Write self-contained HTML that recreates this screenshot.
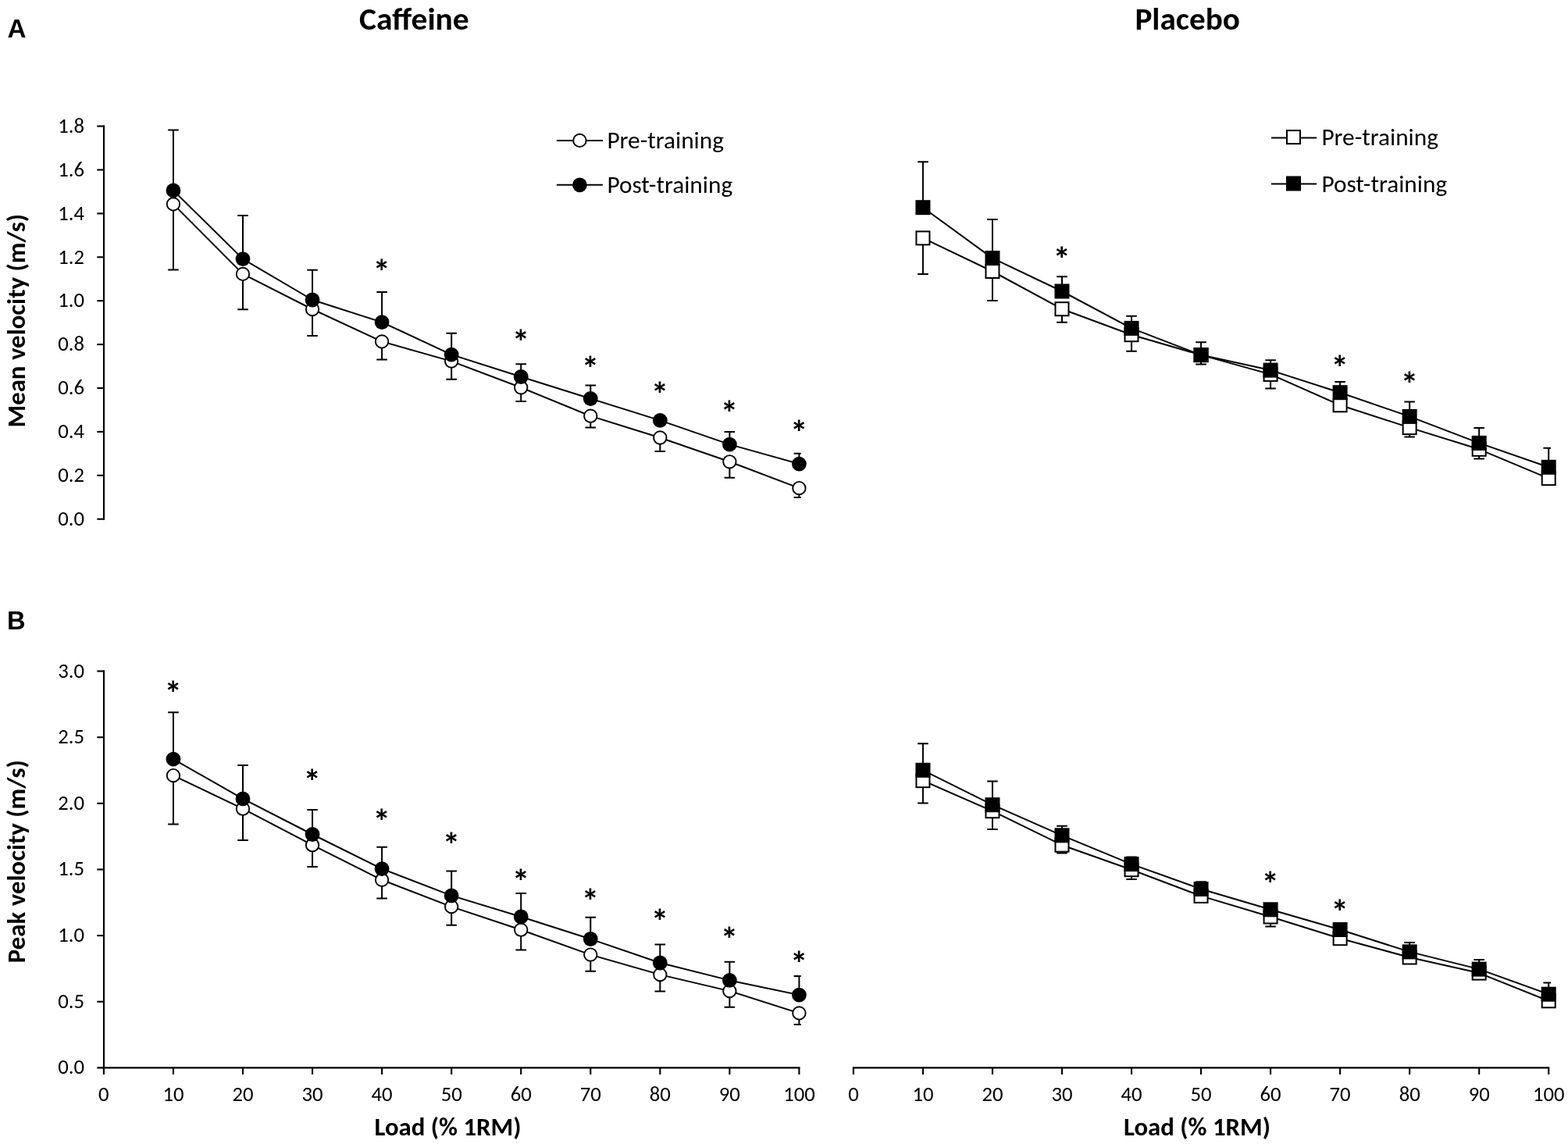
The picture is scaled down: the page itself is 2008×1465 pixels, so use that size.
<!DOCTYPE html>
<html><head><meta charset="utf-8"><title>Caffeine vs Placebo velocity</title><style>html,body{margin:0;padding:0;background:#fff;}svg{display:block;}</style></head><body>
<svg width="2008" height="1465" viewBox="0 0 2008 1465">
<defs><clipPath id="cl"><rect x="0" y="0" width="1025.7" height="1465"/></clipPath><clipPath id="cr"><rect x="1040" y="0" width="945.9" height="1465"/></clipPath></defs>
<rect width="2008" height="1465" fill="#fff"/>
<text x="9.6" y="48.1" font-family="Liberation Sans, Arial, Helvetica, sans-serif" font-weight="bold" font-size="33.3">A</text>
<text transform="translate(9.1 805.9) scale(0.99 1.03)" font-family="Liberation Sans, Arial, Helvetica, sans-serif" font-weight="bold" font-size="33">B</text>
<text transform="translate(530.4 37.6) scale(1 0.975)" font-family="Carlito, Calibri, Liberation Sans, sans-serif" font-weight="bold" font-size="41.5" text-anchor="middle" textLength="140.62" lengthAdjust="spacingAndGlyphs">Caffeine</text>
<text transform="translate(1520.6 37.6) scale(0.992 0.99)" font-family="Carlito, Calibri, Liberation Sans, sans-serif" font-weight="bold" font-size="41.5" text-anchor="middle" textLength="135.56" lengthAdjust="spacingAndGlyphs">Placebo</text>
<g stroke="#000" stroke-width="2.1" fill="none"><path d="M133 160.55V665.75"/><path d="M124.3 664.7H134"/><path d="M124.3 608.8H134"/><path d="M124.3 552.9H134"/><path d="M124.3 497H134"/><path d="M124.3 441.1H134"/><path d="M124.3 385.2H134"/><path d="M124.3 329.3H134"/><path d="M124.3 273.4H134"/><path d="M124.3 217.5H134"/><path d="M124.3 161.6H134"/><path d="M133 858.45V1367.4"/><path d="M124.3 1282.75H134"/><path d="M124.3 1198.1H134"/><path d="M124.3 1113.45H134"/><path d="M124.3 1028.8H134"/><path d="M124.3 944.15H134"/><path d="M124.3 859.5H134"/><path d="M124.3 1367.4H1024.45"/><path d="M132.9 1367.4V1376"/><path d="M221.95 1367.4V1376"/><path d="M311 1367.4V1376"/><path d="M400.05 1367.4V1376"/><path d="M489.1 1367.4V1376"/><path d="M578.15 1367.4V1376"/><path d="M667.2 1367.4V1376"/><path d="M756.25 1367.4V1376"/><path d="M845.3 1367.4V1376"/><path d="M934.35 1367.4V1376"/><path d="M1023.4 1367.4V1376"/><path d="M1091.85 1367.4H1984.25"/><path d="M1092.9 1367.4V1376"/><path d="M1181.93 1367.4V1376"/><path d="M1270.96 1367.4V1376"/><path d="M1359.99 1367.4V1376"/><path d="M1449.02 1367.4V1376"/><path d="M1538.05 1367.4V1376"/><path d="M1627.08 1367.4V1376"/><path d="M1716.11 1367.4V1376"/><path d="M1805.14 1367.4V1376"/><path d="M1894.17 1367.4V1376"/><path d="M1983.2 1367.4V1376"/></g>
<g font-family="Carlito, Calibri, Liberation Sans, sans-serif" font-size="26.67" fill="#000"><text x="108" y="672.9" text-anchor="end" textLength="33.75" lengthAdjust="spacingAndGlyphs">0.0</text><text x="108" y="617" text-anchor="end" textLength="33.75" lengthAdjust="spacingAndGlyphs">0.2</text><text x="108" y="561.1" text-anchor="end" textLength="33.75" lengthAdjust="spacingAndGlyphs">0.4</text><text x="108" y="505.2" text-anchor="end" textLength="33.75" lengthAdjust="spacingAndGlyphs">0.6</text><text x="108" y="449.3" text-anchor="end" textLength="33.75" lengthAdjust="spacingAndGlyphs">0.8</text><text x="108" y="393.4" text-anchor="end" textLength="33.75" lengthAdjust="spacingAndGlyphs">1.0</text><text x="108" y="337.5" text-anchor="end" textLength="33.75" lengthAdjust="spacingAndGlyphs">1.2</text><text x="108" y="281.6" text-anchor="end" textLength="33.75" lengthAdjust="spacingAndGlyphs">1.4</text><text x="108" y="225.7" text-anchor="end" textLength="33.75" lengthAdjust="spacingAndGlyphs">1.6</text><text x="108" y="169.8" text-anchor="end" textLength="33.75" lengthAdjust="spacingAndGlyphs">1.8</text><text x="108" y="1375.4" text-anchor="end" textLength="33.75" lengthAdjust="spacingAndGlyphs">0.0</text><text x="108" y="1290.75" text-anchor="end" textLength="33.75" lengthAdjust="spacingAndGlyphs">0.5</text><text x="108" y="1206.1" text-anchor="end" textLength="33.75" lengthAdjust="spacingAndGlyphs">1.0</text><text x="108" y="1121.45" text-anchor="end" textLength="33.75" lengthAdjust="spacingAndGlyphs">1.5</text><text x="108" y="1036.8" text-anchor="end" textLength="33.75" lengthAdjust="spacingAndGlyphs">2.0</text><text x="108" y="952.15" text-anchor="end" textLength="33.75" lengthAdjust="spacingAndGlyphs">2.5</text><text x="108" y="867.5" text-anchor="end" textLength="33.75" lengthAdjust="spacingAndGlyphs">3.0</text><text x="132.9" y="1410" text-anchor="middle" textLength="13.52" lengthAdjust="spacingAndGlyphs">0</text><text x="1092.9" y="1410" text-anchor="middle" textLength="13.52" lengthAdjust="spacingAndGlyphs">0</text><text x="221.95" y="1410" text-anchor="middle" textLength="27.03" lengthAdjust="spacingAndGlyphs">10</text><text x="1181.93" y="1410" text-anchor="middle" textLength="27.03" lengthAdjust="spacingAndGlyphs">10</text><text x="311" y="1410" text-anchor="middle" textLength="27.03" lengthAdjust="spacingAndGlyphs">20</text><text x="1270.96" y="1410" text-anchor="middle" textLength="27.03" lengthAdjust="spacingAndGlyphs">20</text><text x="400.05" y="1410" text-anchor="middle" textLength="27.03" lengthAdjust="spacingAndGlyphs">30</text><text x="1359.99" y="1410" text-anchor="middle" textLength="27.03" lengthAdjust="spacingAndGlyphs">30</text><text x="489.1" y="1410" text-anchor="middle" textLength="27.03" lengthAdjust="spacingAndGlyphs">40</text><text x="1449.02" y="1410" text-anchor="middle" textLength="27.03" lengthAdjust="spacingAndGlyphs">40</text><text x="578.15" y="1410" text-anchor="middle" textLength="27.03" lengthAdjust="spacingAndGlyphs">50</text><text x="1538.05" y="1410" text-anchor="middle" textLength="27.03" lengthAdjust="spacingAndGlyphs">50</text><text x="667.2" y="1410" text-anchor="middle" textLength="27.03" lengthAdjust="spacingAndGlyphs">60</text><text x="1627.08" y="1410" text-anchor="middle" textLength="27.03" lengthAdjust="spacingAndGlyphs">60</text><text x="756.25" y="1410" text-anchor="middle" textLength="27.03" lengthAdjust="spacingAndGlyphs">70</text><text x="1716.11" y="1410" text-anchor="middle" textLength="27.03" lengthAdjust="spacingAndGlyphs">70</text><text x="845.3" y="1410" text-anchor="middle" textLength="27.03" lengthAdjust="spacingAndGlyphs">80</text><text x="1805.14" y="1410" text-anchor="middle" textLength="27.03" lengthAdjust="spacingAndGlyphs">80</text><text x="934.35" y="1410" text-anchor="middle" textLength="27.03" lengthAdjust="spacingAndGlyphs">90</text><text x="1894.17" y="1410" text-anchor="middle" textLength="27.03" lengthAdjust="spacingAndGlyphs">90</text><text x="1023.4" y="1410" text-anchor="middle" textLength="40.53" lengthAdjust="spacingAndGlyphs">100</text><text x="1983.2" y="1410" text-anchor="middle" textLength="40.53" lengthAdjust="spacingAndGlyphs">100</text></g>
<text transform="translate(573.5 1454) scale(0.995 0.98)" font-family="Carlito, Calibri, Liberation Sans, sans-serif" font-weight="bold" font-size="33" text-anchor="middle" textLength="188.81" lengthAdjust="spacingAndGlyphs">Load (% 1RM)</text>
<text transform="translate(1533 1453.5) scale(0.995 0.98)" font-family="Carlito, Calibri, Liberation Sans, sans-serif" font-weight="bold" font-size="33" text-anchor="middle" textLength="188.81" lengthAdjust="spacingAndGlyphs">Load (% 1RM)</text>
<text transform="translate(32.4 410.8) rotate(-90) scale(0.995 0.98)" font-family="Carlito, Calibri, Liberation Sans, sans-serif" font-weight="bold" font-size="33" text-anchor="middle" textLength="274.91" lengthAdjust="spacingAndGlyphs">Mean velocity (m/s)</text>
<text transform="translate(32.4 1103.2) rotate(-90) scale(0.995 0.98)" font-family="Carlito, Calibri, Liberation Sans, sans-serif" font-weight="bold" font-size="33" text-anchor="middle" textLength="261.23" lengthAdjust="spacingAndGlyphs">Peak velocity (m/s)</text>
<path d="M712.9 180H771.9M712.9 236.8H771.9M1627.9 176.5H1686.2M1627.9 235.5H1686.2" stroke="#000" stroke-width="2"/>
<circle cx="742.4" cy="179.9" r="8.2" fill="#fff" stroke="#000" stroke-width="1.9"/>
<circle cx="742.4" cy="236.8" r="9.4" fill="#000"/>
<text transform="translate(777.4 189.6) scale(1 0.97)" font-family="Carlito, Calibri, Liberation Sans, sans-serif" font-size="31.3" textLength="149.54" lengthAdjust="spacingAndGlyphs">Pre-training</text>
<text transform="translate(777.4 247.2) scale(1 0.97)" font-family="Carlito, Calibri, Liberation Sans, sans-serif" font-size="31.3" textLength="160.75" lengthAdjust="spacingAndGlyphs">Post-training</text>
<rect x="1648" y="167.1" width="17.0" height="17.0" fill="#fff" stroke="#000" stroke-width="2"/>
<rect x="1648" y="226.5" width="17.0" height="17.0" fill="#000" stroke="#000" stroke-width="2"/>
<text transform="translate(1692.4 185.5) scale(1 0.97)" font-family="Carlito, Calibri, Liberation Sans, sans-serif" font-size="31.3" textLength="149.54" lengthAdjust="spacingAndGlyphs">Pre-training</text>
<text transform="translate(1692.4 245.5) scale(1 0.97)" font-family="Carlito, Calibri, Liberation Sans, sans-serif" font-size="31.3" textLength="160.75" lengthAdjust="spacingAndGlyphs">Post-training</text>
<g clip-path="url(#cl)" stroke="#000" stroke-width="2.0" fill="none"><path d="M221.95 261.4V345.5M215.15 345.5H228.75"/><path d="M311 350.9V396.3M304.2 396.3H317.8"/><path d="M400.05 396V429.9M393.25 429.9H406.85"/><path d="M489.1 437.4V460.5M482.3 460.5H495.9"/><path d="M578.15 462.6V485.7M571.35 485.7H584.95"/><path d="M667.2 496.3V514.1M660.4 514.1H674"/><path d="M756.25 532.7V547.4M749.45 547.4H763.05"/><path d="M845.3 560.5V577.9M838.5 577.9H852.1"/><path d="M934.35 591.3V611.7M927.55 611.7H941.15"/><path d="M1023.4 625.1V636.9M1016.6 636.9H1030.2"/><path d="M221.95 243.9V166.6M215.15 166.6H228.75"/><path d="M311 331.6V275.9M304.2 275.9H317.8"/><path d="M400.05 384V345.7M393.25 345.7H406.85"/><path d="M489.1 412.6V373.9M482.3 373.9H495.9"/><path d="M578.15 454.1V426.8M571.35 426.8H584.95"/><path d="M667.2 482.5V466.2M660.4 466.2H674"/><path d="M756.25 510.5V493.6M749.45 493.6H763.05"/><path d="M934.35 569.1V553.1M927.55 553.1H941.15"/><path d="M1023.4 594.1V580.8M1016.6 580.8H1030.2"/></g>
<polyline fill="none" stroke="#000" stroke-width="2.0" stroke-linejoin="round" points="221.95,261.4 311,350.9 400.05,396 489.1,437.4 578.15,462.6 667.2,496.3 756.25,532.7 845.3,560.5 934.35,591.3 1023.4,625.1"/>
<polyline fill="none" stroke="#000" stroke-width="2.0" stroke-linejoin="round" points="221.95,243.9 311,331.6 400.05,384 489.1,412.6 578.15,454.1 667.2,482.5 756.25,510.5 845.3,538.4 934.35,569.1 1023.4,594.1"/>
<circle cx="221.95" cy="261.4" r="8.2" fill="#fff" stroke="#000" stroke-width="1.9"/><circle cx="311" cy="350.9" r="8.2" fill="#fff" stroke="#000" stroke-width="1.9"/><circle cx="400.05" cy="396" r="8.2" fill="#fff" stroke="#000" stroke-width="1.9"/><circle cx="489.1" cy="437.4" r="8.2" fill="#fff" stroke="#000" stroke-width="1.9"/><circle cx="578.15" cy="462.6" r="8.2" fill="#fff" stroke="#000" stroke-width="1.9"/><circle cx="667.2" cy="496.3" r="8.2" fill="#fff" stroke="#000" stroke-width="1.9"/><circle cx="756.25" cy="532.7" r="8.2" fill="#fff" stroke="#000" stroke-width="1.9"/><circle cx="845.3" cy="560.5" r="8.2" fill="#fff" stroke="#000" stroke-width="1.9"/><circle cx="934.35" cy="591.3" r="8.2" fill="#fff" stroke="#000" stroke-width="1.9"/><circle cx="1023.4" cy="625.1" r="8.2" fill="#fff" stroke="#000" stroke-width="1.9"/><circle cx="221.95" cy="243.9" r="9.4" fill="#000"/><circle cx="311" cy="331.6" r="9.4" fill="#000"/><circle cx="400.05" cy="384" r="9.4" fill="#000"/><circle cx="489.1" cy="412.6" r="9.4" fill="#000"/><circle cx="578.15" cy="454.1" r="9.4" fill="#000"/><circle cx="667.2" cy="482.5" r="9.4" fill="#000"/><circle cx="756.25" cy="510.5" r="9.4" fill="#000"/><circle cx="845.3" cy="538.4" r="9.4" fill="#000"/><circle cx="934.35" cy="569.1" r="9.4" fill="#000"/><circle cx="1023.4" cy="594.1" r="9.4" fill="#000"/>
<g clip-path="url(#cr)" stroke="#000" stroke-width="2.0" fill="none"><path d="M1181.93 304.9V351.1M1175.13 351.1H1188.73"/><path d="M1270.96 347.5V384.9M1264.16 384.9H1277.76"/><path d="M1359.99 395.7V412.7M1353.19 412.7H1366.79"/><path d="M1449.02 428.7V449.7M1442.22 449.7H1455.82"/><path d="M1538.05 454.6V466.6M1531.25 466.6H1544.85"/><path d="M1627.08 479.4V497.5M1620.28 497.5H1633.88"/><path d="M1805.14 547.6V559.5M1798.34 559.5H1811.94"/><path d="M1894.17 575.3V587.4M1887.37 587.4H1900.97"/><path d="M1181.93 265.7V207.2M1175.13 207.2H1188.73"/><path d="M1270.96 330.6V280.9M1264.16 280.9H1277.76"/><path d="M1359.99 373V354.2M1353.19 354.2H1366.79"/><path d="M1449.02 420.4V404.8M1442.22 404.8H1455.82"/><path d="M1538.05 454.6V438.2M1531.25 438.2H1544.85"/><path d="M1627.08 474.1V461.3M1620.28 461.3H1633.88"/><path d="M1716.11 502.7V488.9M1709.31 488.9H1722.91"/><path d="M1805.14 533.4V514.6M1798.34 514.6H1811.94"/><path d="M1894.17 567.4V548M1887.37 548H1900.97"/><path d="M1983.2 598.3V573.7M1976.4 573.7H1990"/></g>
<polyline fill="none" stroke="#000" stroke-width="2.0" stroke-linejoin="round" points="1181.93,304.9 1270.96,347.5 1359.99,395.7 1449.02,428.7 1538.05,454.6 1627.08,479.4 1716.11,518.8 1805.14,547.6 1894.17,575.3 1983.2,612.6"/>
<polyline fill="none" stroke="#000" stroke-width="2.0" stroke-linejoin="round" points="1181.93,265.7 1270.96,330.6 1359.99,373 1449.02,420.4 1538.05,454.6 1627.08,474.1 1716.11,502.7 1805.14,533.4 1894.17,567.4 1983.2,598.3"/>
<rect x="1173.43" y="296.4" width="17.0" height="17.0" fill="#fff" stroke="#000" stroke-width="2.0"/><rect x="1262.46" y="339" width="17.0" height="17.0" fill="#fff" stroke="#000" stroke-width="2.0"/><rect x="1351.49" y="387.2" width="17.0" height="17.0" fill="#fff" stroke="#000" stroke-width="2.0"/><rect x="1440.52" y="420.2" width="17.0" height="17.0" fill="#fff" stroke="#000" stroke-width="2.0"/><rect x="1529.55" y="446.1" width="17.0" height="17.0" fill="#fff" stroke="#000" stroke-width="2.0"/><rect x="1618.58" y="470.9" width="17.0" height="17.0" fill="#fff" stroke="#000" stroke-width="2.0"/><rect x="1707.61" y="510.3" width="17.0" height="17.0" fill="#fff" stroke="#000" stroke-width="2.0"/><rect x="1796.64" y="539.1" width="17.0" height="17.0" fill="#fff" stroke="#000" stroke-width="2.0"/><rect x="1885.67" y="566.8" width="17.0" height="17.0" fill="#fff" stroke="#000" stroke-width="2.0"/><rect x="1974.7" y="604.1" width="17.0" height="17.0" fill="#fff" stroke="#000" stroke-width="2.0"/><rect x="1173.43" y="257.2" width="17.0" height="17.0" fill="#000" stroke="#000" stroke-width="2.0"/><rect x="1262.46" y="322.1" width="17.0" height="17.0" fill="#000" stroke="#000" stroke-width="2.0"/><rect x="1351.49" y="364.5" width="17.0" height="17.0" fill="#000" stroke="#000" stroke-width="2.0"/><rect x="1440.52" y="411.9" width="17.0" height="17.0" fill="#000" stroke="#000" stroke-width="2.0"/><rect x="1529.55" y="446.1" width="17.0" height="17.0" fill="#000" stroke="#000" stroke-width="2.0"/><rect x="1618.58" y="465.6" width="17.0" height="17.0" fill="#000" stroke="#000" stroke-width="2.0"/><rect x="1707.61" y="494.2" width="17.0" height="17.0" fill="#000" stroke="#000" stroke-width="2.0"/><rect x="1796.64" y="524.9" width="17.0" height="17.0" fill="#000" stroke="#000" stroke-width="2.0"/><rect x="1885.67" y="558.9" width="17.0" height="17.0" fill="#000" stroke="#000" stroke-width="2.0"/><rect x="1974.7" y="589.8" width="17.0" height="17.0" fill="#000" stroke="#000" stroke-width="2.0"/>
<g clip-path="url(#cl)" stroke="#000" stroke-width="2.0" fill="none"><path d="M221.95 993.1V1055.6M215.15 1055.6H228.75"/><path d="M311 1035.7V1076.1M304.2 1076.1H317.8"/><path d="M400.05 1082.2V1109.9M393.25 1109.9H406.85"/><path d="M489.1 1126.8V1150.4M482.3 1150.4H495.9"/><path d="M578.15 1161.1V1184.7M571.35 1184.7H584.95"/><path d="M667.2 1190.7V1216.4M660.4 1216.4H674"/><path d="M756.25 1222.6V1243.7M749.45 1243.7H763.05"/><path d="M845.3 1248.1V1269.6M838.5 1269.6H852.1"/><path d="M934.35 1269.1V1289.8M927.55 1289.8H941.15"/><path d="M1023.4 1297.4V1312M1016.6 1312H1030.2"/><path d="M221.95 972.2V912.2M215.15 912.2H228.75"/><path d="M311 1022.9V980M304.2 980H317.8"/><path d="M400.05 1068.5V1036.9M393.25 1036.9H406.85"/><path d="M489.1 1112.6V1084.8M482.3 1084.8H495.9"/><path d="M578.15 1146.9V1115.5M571.35 1115.5H584.95"/><path d="M667.2 1174V1143.9M660.4 1143.9H674"/><path d="M756.25 1202.5V1174.7M749.45 1174.7H763.05"/><path d="M845.3 1233V1209.6M838.5 1209.6H852.1"/><path d="M934.35 1255.4V1231.8M927.55 1231.8H941.15"/><path d="M1023.4 1274.1V1249.9M1016.6 1249.9H1030.2"/></g>
<polyline fill="none" stroke="#000" stroke-width="2.0" stroke-linejoin="round" points="221.95,993.1 311,1035.7 400.05,1082.2 489.1,1126.8 578.15,1161.1 667.2,1190.7 756.25,1222.6 845.3,1248.1 934.35,1269.1 1023.4,1297.4"/>
<polyline fill="none" stroke="#000" stroke-width="2.0" stroke-linejoin="round" points="221.95,972.2 311,1022.9 400.05,1068.5 489.1,1112.6 578.15,1146.9 667.2,1174 756.25,1202.5 845.3,1233 934.35,1255.4 1023.4,1274.1"/>
<circle cx="221.95" cy="993.1" r="8.2" fill="#fff" stroke="#000" stroke-width="1.9"/><circle cx="311" cy="1035.7" r="8.2" fill="#fff" stroke="#000" stroke-width="1.9"/><circle cx="400.05" cy="1082.2" r="8.2" fill="#fff" stroke="#000" stroke-width="1.9"/><circle cx="489.1" cy="1126.8" r="8.2" fill="#fff" stroke="#000" stroke-width="1.9"/><circle cx="578.15" cy="1161.1" r="8.2" fill="#fff" stroke="#000" stroke-width="1.9"/><circle cx="667.2" cy="1190.7" r="8.2" fill="#fff" stroke="#000" stroke-width="1.9"/><circle cx="756.25" cy="1222.6" r="8.2" fill="#fff" stroke="#000" stroke-width="1.9"/><circle cx="845.3" cy="1248.1" r="8.2" fill="#fff" stroke="#000" stroke-width="1.9"/><circle cx="934.35" cy="1269.1" r="8.2" fill="#fff" stroke="#000" stroke-width="1.9"/><circle cx="1023.4" cy="1297.4" r="8.2" fill="#fff" stroke="#000" stroke-width="1.9"/><circle cx="221.95" cy="972.2" r="9.4" fill="#000"/><circle cx="311" cy="1022.9" r="9.4" fill="#000"/><circle cx="400.05" cy="1068.5" r="9.4" fill="#000"/><circle cx="489.1" cy="1112.6" r="9.4" fill="#000"/><circle cx="578.15" cy="1146.9" r="9.4" fill="#000"/><circle cx="667.2" cy="1174" r="9.4" fill="#000"/><circle cx="756.25" cy="1202.5" r="9.4" fill="#000"/><circle cx="845.3" cy="1233" r="9.4" fill="#000"/><circle cx="934.35" cy="1255.4" r="9.4" fill="#000"/><circle cx="1023.4" cy="1274.1" r="9.4" fill="#000"/>
<g clip-path="url(#cr)" stroke="#000" stroke-width="2.0" fill="none"><path d="M1181.93 999.7V1028.5M1175.13 1028.5H1188.73"/><path d="M1270.96 1038.7V1061.9M1264.16 1061.9H1277.76"/><path d="M1359.99 1082.2V1092.4M1353.19 1092.4H1366.79"/><path d="M1449.02 1113.7V1126M1442.22 1126H1455.82"/><path d="M1627.08 1174V1186.4M1620.28 1186.4H1633.88"/><path d="M1181.93 986.3V952.2M1175.13 952.2H1188.73"/><path d="M1270.96 1030.7V1000.6M1264.16 1000.6H1277.76"/><path d="M1359.99 1069.8V1057.8M1353.19 1057.8H1366.79"/><path d="M1449.02 1106.6V1097.6M1442.22 1097.6H1455.82"/><path d="M1538.05 1138.5V1129.2M1531.25 1129.2H1544.85"/><path d="M1805.14 1218.9V1207M1798.34 1207H1811.94"/><path d="M1894.17 1241.1V1229.1M1887.37 1229.1H1900.97"/><path d="M1983.2 1273.2V1258.4M1976.4 1258.4H1990"/></g>
<polyline fill="none" stroke="#000" stroke-width="2.0" stroke-linejoin="round" points="1181.93,999.7 1270.96,1038.7 1359.99,1082.2 1449.02,1113.7 1538.05,1147.4 1627.08,1174 1716.11,1201.7 1805.14,1226 1894.17,1246.1 1983.2,1281.8"/>
<polyline fill="none" stroke="#000" stroke-width="2.0" stroke-linejoin="round" points="1181.93,986.3 1270.96,1030.7 1359.99,1069.8 1449.02,1106.6 1538.05,1138.5 1627.08,1164.8 1716.11,1190.5 1805.14,1218.9 1894.17,1241.1 1983.2,1273.2"/>
<rect x="1173.43" y="991.2" width="17.0" height="17.0" fill="#fff" stroke="#000" stroke-width="2.0"/><rect x="1262.46" y="1030.2" width="17.0" height="17.0" fill="#fff" stroke="#000" stroke-width="2.0"/><rect x="1351.49" y="1073.7" width="17.0" height="17.0" fill="#fff" stroke="#000" stroke-width="2.0"/><rect x="1440.52" y="1105.2" width="17.0" height="17.0" fill="#fff" stroke="#000" stroke-width="2.0"/><rect x="1529.55" y="1138.9" width="17.0" height="17.0" fill="#fff" stroke="#000" stroke-width="2.0"/><rect x="1618.58" y="1165.5" width="17.0" height="17.0" fill="#fff" stroke="#000" stroke-width="2.0"/><rect x="1707.61" y="1193.2" width="17.0" height="17.0" fill="#fff" stroke="#000" stroke-width="2.0"/><rect x="1796.64" y="1217.5" width="17.0" height="17.0" fill="#fff" stroke="#000" stroke-width="2.0"/><rect x="1885.67" y="1237.6" width="17.0" height="17.0" fill="#fff" stroke="#000" stroke-width="2.0"/><rect x="1974.7" y="1273.3" width="17.0" height="17.0" fill="#fff" stroke="#000" stroke-width="2.0"/><rect x="1173.43" y="977.8" width="17.0" height="17.0" fill="#000" stroke="#000" stroke-width="2.0"/><rect x="1262.46" y="1022.2" width="17.0" height="17.0" fill="#000" stroke="#000" stroke-width="2.0"/><rect x="1351.49" y="1061.3" width="17.0" height="17.0" fill="#000" stroke="#000" stroke-width="2.0"/><rect x="1440.52" y="1098.1" width="17.0" height="17.0" fill="#000" stroke="#000" stroke-width="2.0"/><rect x="1529.55" y="1130" width="17.0" height="17.0" fill="#000" stroke="#000" stroke-width="2.0"/><rect x="1618.58" y="1156.3" width="17.0" height="17.0" fill="#000" stroke="#000" stroke-width="2.0"/><rect x="1707.61" y="1182" width="17.0" height="17.0" fill="#000" stroke="#000" stroke-width="2.0"/><rect x="1796.64" y="1210.4" width="17.0" height="17.0" fill="#000" stroke="#000" stroke-width="2.0"/><rect x="1885.67" y="1232.6" width="17.0" height="17.0" fill="#000" stroke="#000" stroke-width="2.0"/><rect x="1974.7" y="1264.7" width="17.0" height="17.0" fill="#000" stroke="#000" stroke-width="2.0"/>
<g font-family="Carlito, Calibri, Liberation Sans, sans-serif" font-weight="bold" font-size="45.0" text-anchor="middle"><text x="488.8" y="363.4">*</text><text x="666.9" y="453.2">*</text><text x="755.95" y="486.7">*</text><text x="845" y="520.4">*</text><text x="934.05" y="543.5">*</text><text x="1023.1" y="569">*</text><text x="1359.69" y="346.9">*</text><text x="1715.81" y="486.3">*</text><text x="1804.84" y="507.1">*</text><text x="221.65" y="902.8">*</text><text x="399.75" y="1015.7">*</text><text x="488.8" y="1067.4">*</text><text x="577.85" y="1096.5">*</text><text x="666.9" y="1143.5">*</text><text x="755.95" y="1169.3">*</text><text x="845" y="1195.4">*</text><text x="934.05" y="1218.1">*</text><text x="1023.1" y="1248.9">*</text><text x="1626.78" y="1147.3">*</text><text x="1715.81" y="1183">*</text></g>
</svg>
</body></html>
